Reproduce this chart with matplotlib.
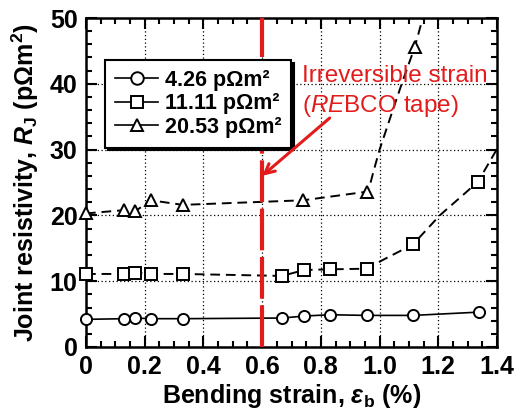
import matplotlib
matplotlib.use("Agg")
import matplotlib.pyplot as plt
from matplotlib.ticker import MultipleLocator

plt.rcParams['font.family'] = ['Liberation Sans', 'DejaVu Sans']
plt.rcParams['font.weight'] = 'bold'
plt.rcParams['mathtext.fontset'] = 'custom'
plt.rcParams['mathtext.it'] = 'Liberation Sans:italic:normal'
plt.rcParams['mathtext.bf'] = 'Liberation Sans:bold:italic'
plt.rcParams['mathtext.sf'] = 'Liberation Sans:bold'
plt.rcParams['mathtext.rm'] = 'Liberation Sans:bold'

# --- data ---
labels = ["4.26 pΩm²", "11.11 pΩm²", "20.53 pΩm²"]

strain_a = [0, 0.13, 0.167, 0.22, 0.33, 0.668, 0.743, 0.83, 0.957, 1.114, 1.34]
rj_a = [4.2, 4.3, 4.4, 4.3, 4.3, 4.4, 4.7, 4.9, 4.8, 4.8, 5.3]

strain_b = [0, 0.13, 0.167, 0.22, 0.33, 0.668, 0.743, 0.83, 0.957, 1.114, 1.335]
rj_b = [11.1, 11.1, 11.3, 11.1, 11.1, 10.8, 11.7, 11.8, 11.9, 15.6, 25.1]
fit_x_b = [0, 0.13, 0.167, 0.22, 0.33, 0.668, 0.743, 0.83, 0.957, 1.01, 1.114, 1.205, 1.335, 1.4]
fit_y_b = [11.1, 11.1, 11.3, 11.1, 11.1, 10.8, 11.7, 11.8, 11.9, 13.2, 15.6, 20.0, 25.1, 30.1]

strain_c = [0, 0.13, 0.167, 0.22, 0.33, 0.74, 0.957, 1.12]
rj_c = [20.3, 20.8, 20.6, 22.3, 21.6, 22.3, 23.6, 45.6]
fit_x_c = [0, 0.13, 0.167, 0.22, 0.33, 0.74, 0.957, 0.967, 0.98, 1.0, 1.045, 1.08, 1.12, 1.15]
fit_y_c = [20.3, 20.8, 20.6, 22.3, 21.6, 22.3, 23.6, 24.6, 26.8, 30.0, 36.0, 40.6, 45.6, 50.5]

irr_strain = 0.6
arrow_target = 26.0

fig = plt.figure(figsize=(5.2, 4.18), dpi=100)
ax = fig.add_axes([0.1654, 0.1699, 0.7904, 0.787])

ms = 8
mew = 1.4
ax.plot(strain_a, rj_a, '-', color='black', lw=1.2, marker='o', ms=ms, mfc='white',
        mec='black', mew=mew, zorder=3, clip_on=False)
ax.plot(fit_x_b, fit_y_b, color='black', lw=1.4, dashes=(5, 3), zorder=2)
ax.plot(strain_b, rj_b, ls='none', marker='s', ms=ms, mfc='white', mec='black', mew=mew,
        zorder=3, clip_on=False)
ax.plot(fit_x_c, fit_y_c, color='black', lw=1.4, dashes=(5, 3), zorder=2)
ax.plot(strain_c, rj_c, ls='none', marker='^', ms=ms + 1, mfc='white', mec='black', mew=mew,
        zorder=3, clip_on=False)

# legend proxies
ha, = ax.plot([], [], '-', color='black', lw=1.2, marker='o', ms=ms + 1, mfc='white', mec='black', mew=mew)
hb, = ax.plot([], [], '-', color='black', lw=1.2, marker='s', ms=ms, mfc='white', mec='black', mew=mew)
hc, = ax.plot([], [], '-', color='black', lw=1.2, marker='^', ms=ms + 1, mfc='white', mec='black', mew=mew)
leg = ax.legend([ha, hb, hc], labels, loc='upper left', bbox_to_anchor=(0.047, 0.872),
                borderaxespad=0, fancybox=False, shadow={'color': 'black', 'alpha': 1},
                framealpha=1, edgecolor='black', handlelength=2.0,
                handletextpad=0.3, labelspacing=0.12, borderpad=0.45,
                prop={'weight': 'bold', 'size': 15.5})
leg.get_frame().set_linewidth(1.5)
leg.set_zorder(5)

red = '#e31b1b'
ax.plot([irr_strain, irr_strain], [0, 50], color=red, lw=3, dashes=(10, 1.6), zorder=4)
ax.annotate('', xy=(irr_strain, arrow_target), xytext=(0.83, 34.8),
            arrowprops=dict(arrowstyle='->,head_length=0.7,head_width=0.35', color=red, lw=2.2,
                            shrinkA=0, shrinkB=0), zorder=6)
ax.text(0.735, 41.2, 'Irreversible strain', color=red, fontsize=17.5, fontweight='normal',
        ha='left', va='center', zorder=6)
ax.text(0.735, 36.6, r'($\mathit{RE}$BCO tape)', color=red, fontsize=17.5, fontweight='normal',
        ha='left', va='center', zorder=6)

ax.set_xlim(0, 1.4)
ax.set_ylim(0, 50)
ax.xaxis.set_major_locator(MultipleLocator(0.2))
ax.xaxis.set_minor_locator(MultipleLocator(0.05))
ax.yaxis.set_major_locator(MultipleLocator(10))
ax.yaxis.set_minor_locator(MultipleLocator(2))
ax.set_xticks([0, 0.2, 0.4, 0.6, 0.8, 1.0, 1.2, 1.4])
ax.set_xticklabels(['0', '0.2', '0.4', '0.6', '0.8', '1.0', '1.2', '1.4'])
ax.tick_params(which='both', direction='in', top=True, right=True, labelsize=18, width=1.5)
ax.tick_params(which='major', length=8, pad=6)
ax.tick_params(which='minor', length=4)
for t in ax.get_xticklabels() + ax.get_yticklabels():
    t.set_fontweight('bold')
for s in ax.spines.values():
    s.set_linewidth(1.8)
ax.grid(True, which='major', ls=(0, (1, 2)), color='black', lw=0.9)

ax.set_xlabel(r'Bending strain, $\mathbf{\varepsilon}_\mathsf{b}$ (%)', fontsize=18,
              fontweight='bold', labelpad=2)
ax.set_ylabel(r'Joint resistivity, $\mathbf{R}_\mathsf{J}$ (p$\mathsf{\Omega}$m$^\mathsf{2}$)',
              fontsize=18, fontweight='bold', labelpad=6)

fig.savefig('out.png', dpi=100)
